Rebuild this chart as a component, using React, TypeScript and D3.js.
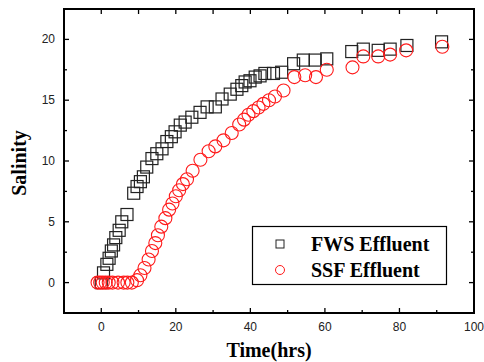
import React, { useEffect, useRef } from 'react'
import * as d3 from 'd3'

// FWS effluent (squares)
const fwsTime = [0, 0.6, 1.5, 2.1, 2.7, 3.3, 3.9, 4.8, 5.5, 6.9, 8.7, 9.6, 10.5, 11.3, 12.2, 13.6, 14.9, 16.3, 17.6, 18.8, 19.8, 21.2, 22.5, 24.3, 26.5, 28.4, 30.6, 32.4, 34.6, 36.4, 37.7, 38.6, 39.9, 41.3, 42.6, 43.9, 46.2, 48.4, 51.6, 54.2, 57.4, 60.5, 67.2, 70.3, 74.3, 77.5, 82.0, 91.3]
const fwsSalinity = [0, 0.8, 1.5, 2.0, 2.6, 3.1, 3.7, 4.3, 5.0, 5.6, 7.35, 7.9, 8.3, 8.7, 9.5, 10.2, 10.6, 11.0, 11.6, 12.0, 12.4, 12.95, 13.2, 13.6, 14.0, 14.45, 14.45, 15.1, 15.5, 15.9, 16.2, 16.5, 16.6, 16.9, 17.0, 17.2, 17.2, 17.3, 18.0, 18.3, 18.3, 18.4, 19.0, 19.2, 19.1, 19.2, 19.5, 19.8]

// SSF effluent (circles)
const ssfTime = [-1, -0.3, 0.4, 1.2, 2, 3, 4.5, 6, 7, 8.2, 9.6, 10.5, 11.6, 12.7, 13.6, 14.5, 15.2, 16.1, 17.2, 18.2, 19.1, 20.0, 20.9, 21.9, 23.0, 24.5, 26.6, 28.8, 30.6, 32.8, 35.0, 37.0, 38.3, 39.5, 40.8, 42.2, 43.5, 45.0, 46.6, 48.9, 51.8, 54.7, 57.6, 60.5, 67.4, 70.3, 74.3, 77.5, 81.8, 91.5]
const ssfSalinity = [0, 0, 0, 0, 0, 0, 0, 0, 0, 0, 0.2, 0.6, 1.2, 1.9, 2.6, 3.25, 3.9, 4.6, 5.3, 6.0, 6.5, 7.1, 7.6, 8.1, 8.5, 9.2, 10.1, 10.8, 11.2, 11.7, 12.3, 13.0, 13.4, 13.8, 14.1, 14.4, 14.7, 15.0, 15.3, 15.8, 16.9, 17.05, 16.9, 17.5, 17.7, 18.6, 18.6, 18.75, 19.1, 19.4]

const xTicks = [0, 20, 40, 60, 80, 100]
const yTicks = [0, 5, 10, 15, 20]
const legendLabels = ['FWS Effluent', 'SSF Effluent']

const W = 484
const H = 362
const margin = { top: 9, right: 10, bottom: 49, left: 64 }

const SalinityChart = () => {
  const ref = useRef<SVGSVGElement | null>(null)

  useEffect(() => {
    const svg = d3.select(ref.current)
    svg.selectAll('*').remove()

    const x = d3.scaleLinear().domain([-10, 100]).range([margin.left, W - margin.right])
    const y = d3.scaleLinear().domain([-2.5, 22.5]).range([H - margin.bottom, margin.top])
    const x0 = margin.left, x1 = W - margin.right
    const y0 = H - margin.bottom, y1 = margin.top

    svg.append('rect').attr('width', W).attr('height', H).attr('fill', '#fff')

    const tickFont = '"Liberation Sans", Arial, sans-serif'
    const xMinor = d3.range(-10, 101, 10)
    const yMinor = d3.range(-2.5, 22.6, 2.5)

    // ticks, pointing inward on every side
    const g = svg.append('g').attr('stroke', '#000').attr('stroke-width', 1.3)
    xMinor.forEach((v) => {
      const major = xTicks.includes(v)
      const len = major ? 5 : 3
      g.append('line').attr('x1', x(v)).attr('x2', x(v)).attr('y1', y0).attr('y2', y0 - len)
      g.append('line').attr('x1', x(v)).attr('x2', x(v)).attr('y1', y1).attr('y2', y1 + 5)
    })
    yMinor.forEach((v) => {
      const major = yTicks.includes(v)
      const len = major ? 5 : 3
      g.append('line').attr('y1', y(v)).attr('y2', y(v)).attr('x1', x0).attr('x2', x0 + len)
      g.append('line').attr('y1', y(v)).attr('y2', y(v)).attr('x1', x1).attr('x2', x1 - len)
    })

    svg.append('g')
      .selectAll('text')
      .data(xTicks)
      .join('text')
      .attr('x', (d) => x(d))
      .attr('y', y0 + 18)
      .attr('text-anchor', 'middle')
      .attr('font-family', tickFont)
      .attr('font-size', 12)
      .attr('fill', '#222')
      .text((d) => d)

    svg.append('g')
      .selectAll('text')
      .data(yTicks)
      .join('text')
      .attr('x', x0 - 9)
      .attr('y', (d) => y(d) + 4)
      .attr('text-anchor', 'end')
      .attr('font-family', tickFont)
      .attr('font-size', 12)
      .attr('fill', '#222')
      .text((d) => d)

    // frame
    svg.append('rect')
      .attr('x', x0).attr('y', y1)
      .attr('width', x1 - x0).attr('height', y0 - y1)
      .attr('fill', 'none').attr('stroke', '#000').attr('stroke-width', 2)

    // data
    const s = 12
    svg.append('g')
      .selectAll('rect')
      .data(d3.zip(fwsTime, fwsSalinity))
      .join('rect')
      .attr('x', (d) => x(d[0]) - s / 2)
      .attr('y', (d) => y(d[1]) - s / 2)
      .attr('width', s).attr('height', s)
      .attr('fill', 'none').attr('stroke', '#222').attr('stroke-width', 1.2)

    svg.append('g')
      .selectAll('circle')
      .data(d3.zip(ssfTime, ssfSalinity))
      .join('circle')
      .attr('cx', (d) => x(d[0]))
      .attr('cy', (d) => y(d[1]))
      .attr('r', 6.5)
      .attr('fill', 'none').attr('stroke', '#ff1a1a').attr('stroke-width', 1.1)

    // legend
    const serif = '"Liberation Serif", "Times New Roman", serif'
    const lg = svg.append('g')
    lg.append('rect').attr('x', 252.5).attr('y', 226.5).attr('width', 194).attr('height', 58)
      .attr('fill', '#fff').attr('stroke', '#000').attr('stroke-width', 1.2)
    lg.append('rect').attr('x', 276).attr('y', 240).attr('width', 8).attr('height', 8)
      .attr('fill', 'none').attr('stroke', '#222').attr('stroke-width', 1)
    lg.append('circle').attr('cx', 280).attr('cy', 270).attr('r', 4.5)
      .attr('fill', 'none').attr('stroke', '#ff1a1a').attr('stroke-width', 1)
    legendLabels.forEach((t, i) => {
      lg.append('text').attr('x', 311).attr('y', 251 + i * 26)
        .attr('font-family', serif).attr('font-weight', 'bold').attr('font-size', 20)
        .text(t)
    })

    // axis titles
    svg.append('text')
      .attr('x', 269).attr('y', 357)
      .attr('text-anchor', 'middle')
      .attr('font-family', serif).attr('font-weight', 'bold').attr('font-size', 20)
      .text('Time(hrs)')
    svg.append('text')
      .attr('transform', 'translate(26,163) rotate(-90)')
      .attr('text-anchor', 'middle')
      .attr('font-family', serif).attr('font-weight', 'bold').attr('font-size', 20)
      .text('Salinity')
  }, [])

  return <svg ref={ref} width={W} height={H} style={{ display: 'block' }} />
}

export default function App() {
  return (
    <div style={{ position: 'absolute', left: 0, top: 0 }}>
      <SalinityChart />
    </div>
  )
}
